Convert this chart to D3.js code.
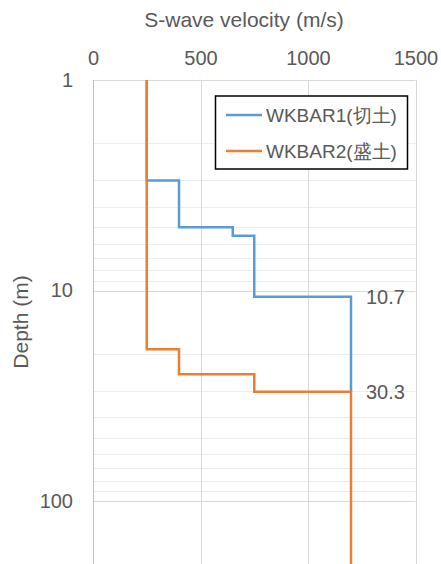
<!DOCTYPE html>
<html>
<head>
<meta charset="utf-8">
<script src="https://cdn.jsdelivr.net/npm/d3@7"></script>
<style>
  html, body { margin: 0; padding: 0; background: #fff; }
  svg { display: block; }
  text { font-family: "Liberation Sans", Arial, sans-serif; fill: #595959; }
</style>
</head>
<body>
<svg id="chart" width="441" height="564"></svg>
<script>
// ---- data ----
const seriesNames = ["WKBAR1(切土)", "WKBAR2(盛土)"];
const seriesColors = ["#5B9BD5", "#ED7D31"];
// layer boundaries (depth, m) and S-wave velocity of each layer (m/s)
const bar1Depths = [1, 3, 5, 5.5, 10.7, 30.3];
const bar1Vs = [250, 400, 650, 750, 1200];
const bar2Depths = [1, 19, 25, 30.3, 1000];
const bar2Vs = [250, 400, 750, 1200];
const xTicks = [0, 500, 1000, 1500];
const yTicks = [1, 10, 100];
const depthLabels = [10.7, 30.3];
const depthLabelVs = [1200, 1200];

// ---- layout ----
const svg = d3.select("#chart");
const plotLeft = 93, plotRight = 415.5, plotTop = 80, decade = 210.5;
const plotBottom = 600;
const x = d3.scaleLinear().domain([0, 1500]).range([plotLeft, plotRight]);
const y = d3.scaleLog().domain([1, 1000]).range([plotTop, plotTop + 3 * decade]);

const g = svg.append("g");

// minor horizontal gridlines
const minor = [];
for (let p = 1; p <= 100; p *= 10) for (let k = 2; k <= 9; k++) minor.push(p * k);
g.selectAll(".minor").data(minor).enter().append("line")
  .attr("x1", plotLeft).attr("x2", plotRight)
  .attr("y1", d => Math.round(y(d)) + 0.5).attr("y2", d => Math.round(y(d)) + 0.5)
  .attr("stroke", "#ececec").attr("stroke-width", 1);

// major horizontal gridlines
g.selectAll(".major").data(yTicks).enter().append("line")
  .attr("x1", plotLeft).attr("x2", plotRight)
  .attr("y1", d => Math.round(y(d)) + 0.5).attr("y2", d => Math.round(y(d)) + 0.5)
  .attr("stroke", "#d9d9d9").attr("stroke-width", 1);

// vertical gridlines
g.selectAll(".vgrid").data(xTicks.slice(1)).enter().append("line")
  .attr("x1", d => Math.round(x(d)) + 0.5).attr("x2", d => Math.round(x(d)) + 0.5)
  .attr("y1", plotTop).attr("y2", plotBottom)
  .attr("stroke", "#d9d9d9").attr("stroke-width", 1);

// left axis line
g.append("line")
  .attr("x1", Math.round(x(0)) + 0.5).attr("x2", Math.round(x(0)) + 0.5)
  .attr("y1", plotTop).attr("y2", plotBottom)
  .attr("stroke", "#bfbfbf").attr("stroke-width", 1);

// x axis (top)
const xAxis = d3.axisTop(x).tickValues(xTicks).tickSize(0).tickPadding(0).tickFormat(d3.format("d"));
const xa = svg.append("g").attr("transform", `translate(0,${plotTop - 15})`).call(xAxis);
xa.select(".domain").remove();
xa.selectAll("text").attr("font-size", 20).attr("fill", "#595959")
  .attr("font-family", "'Liberation Sans', Arial, sans-serif").attr("dy", 0);

// y axis (left)
const yAxis = d3.axisLeft(y).tickValues(yTicks).tickSize(0).tickPadding(0).tickFormat(d3.format("d"));
const ya = svg.append("g").attr("transform", `translate(${plotLeft - 20},0)`).call(yAxis);
ya.select(".domain").remove();
ya.selectAll("text").attr("font-size", 20).attr("fill", "#595959")
  .attr("font-family", "'Liberation Sans', Arial, sans-serif");

// axis titles
svg.append("text").attr("x", 244).attr("y", 27).attr("text-anchor", "middle")
  .attr("font-size", 21).text("S-wave velocity (m/s)");
svg.append("text").attr("transform", "translate(28,322) rotate(-90)").attr("text-anchor", "middle")
  .attr("font-size", 21).text("Depth (m)");

// step lines
function stepPoints(depths, vs) {
  const pts = [];
  vs.forEach((v, i) => { pts.push([v, depths[i]]); pts.push([v, depths[i + 1]]); });
  return pts;
}
const line = d3.line().x(d => x(d[0])).y(d => y(d[1]));
const series = [stepPoints(bar1Depths, bar1Vs), stepPoints(bar2Depths, bar2Vs)];
series.forEach((pts, i) => {
  g.append("path").attr("d", line(pts)).attr("fill", "none")
    .attr("stroke", seriesColors[i]).attr("stroke-width", 2.5)
    .attr("stroke-linejoin", "miter");
});

// depth labels
svg.selectAll(".dl").data(depthLabels).enter().append("text")
  .attr("x", (d, i) => x(depthLabelVs[i]) + 15)
  .attr("y", d => y(d)).attr("dy", "0.35em")
  .attr("font-size", 20).text(d => d.toFixed(1));

// legend
const lg = svg.append("g");
lg.append("rect").attr("x", 215.5).attr("y", 96).attr("width", 192).attr("height", 73)
  .attr("fill", "#fff").attr("stroke", "#000").attr("stroke-width", 1.5);
seriesNames.forEach((n, i) => {
  const yy = 115 + i * 36;
  lg.append("line").attr("x1", 226).attr("x2", 262).attr("y1", yy).attr("y2", yy)
    .attr("stroke", seriesColors[i]).attr("stroke-width", 2.5);
  lg.append("text").attr("x", 266).attr("y", yy).attr("dy", "0.35em")
    .attr("font-size", 19).text(n);
});
</script>
</body>
</html>
